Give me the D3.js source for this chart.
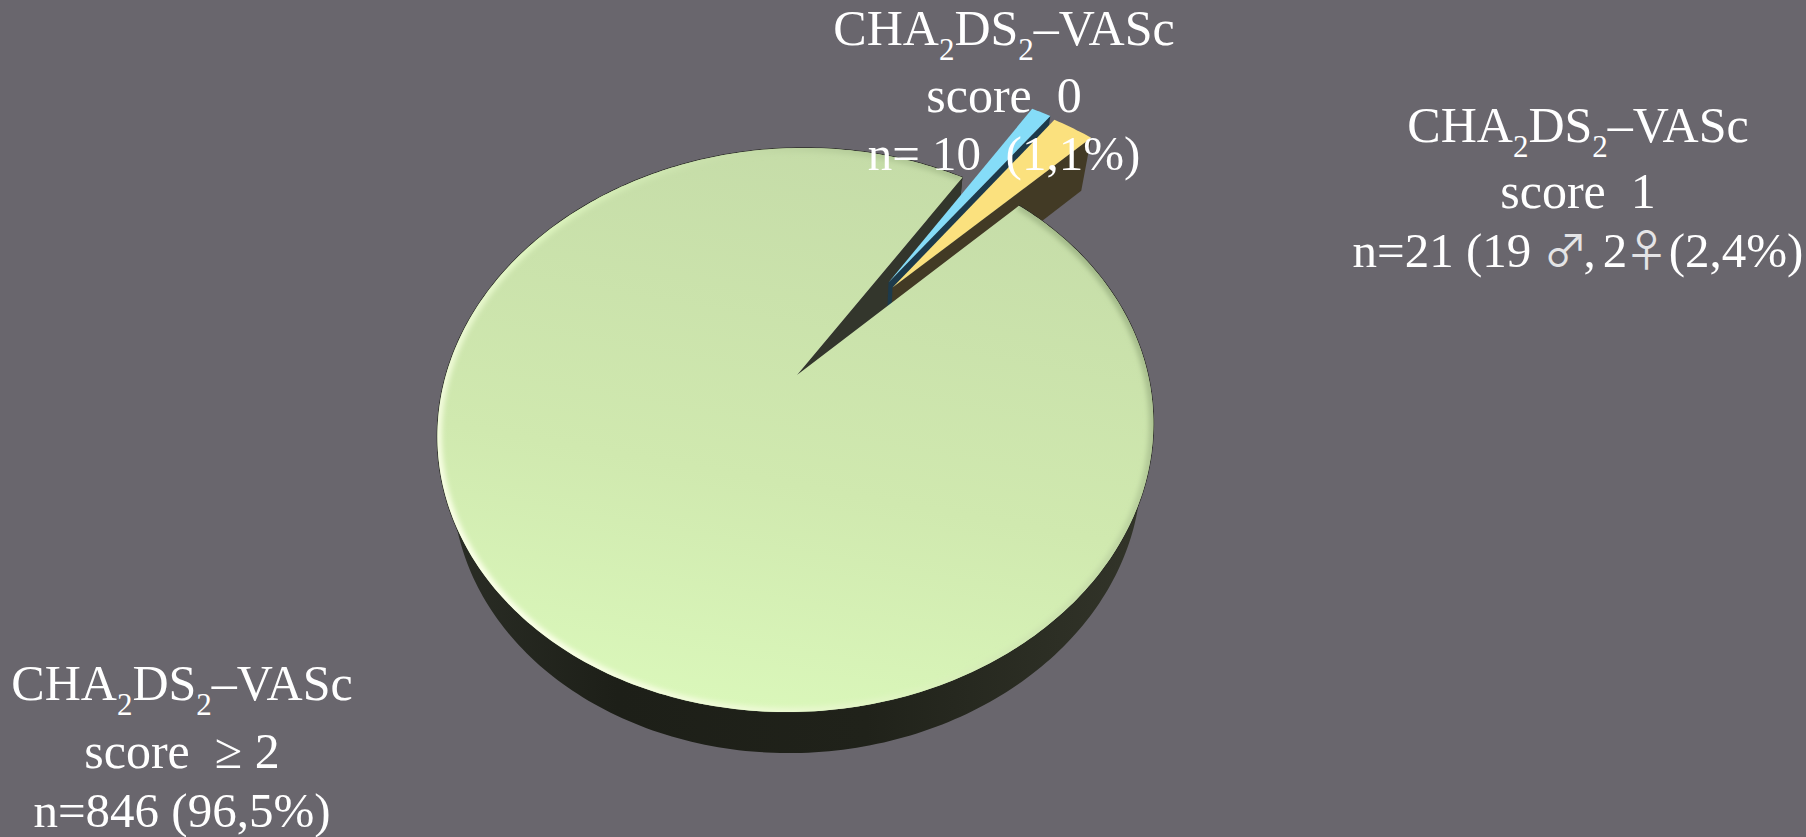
<!DOCTYPE html>
<html lang="en">
<head>
  <meta charset="UTF-8">
  <title>CHA2DS2-VASc pie</title>
  <script src="https://d3js.org/d3.v7.min.js"></script>
  <style>
    html, body { margin: 0; padding: 0; background: #69666d; overflow: hidden; }
    svg { display: block; }
    .label { font-family: "Liberation Serif", serif; font-size: 50px; fill: #fff; text-anchor: middle; white-space: pre; }
    .small { font-size: 49px; }
    .sym { font-family: "Noto Sans CJK SC", "DejaVu Sans", sans-serif; font-size: 44px; fill: #e4e4e6; letter-spacing: -4px; }
    .sym2 { letter-spacing: -12px; }
    .tight { letter-spacing: -2.7px; }
  </style>
</head>
<body>
  <div id="chart"></div>
  <script>
    // values
    const counts = [10, 21, 846];
    const exploded = [0.455, 0.445, 0];
    const explodeTurn = [2.5, -1, 0];
    const topColors = ["#85dcf8", "#fbe17e", "url(#greenTop)"];
    const wallColors = ["#1d3a4b", "#423a25", "#33362c"];

    const labelLines = [
      ["score  0", "n= 10  (1,1%)"],
      ["score  1", "n=21 (19 |♂|, 2|♀| (2,4%)"],
      ["score  ≥ 2", "n=846 (96,5%)"]
    ];
    const labelX = [1004, 1578, 182];
    const labelY = [[45, 112, 170], [142, 208, 267], [700, 768, 827]];

    const width = 1806, height = 837;

    const svg = d3.select("#chart").append("svg")
      .attr("width", width)
      .attr("height", height);

    const defs = svg.append("defs");

    const greenGrad = defs.append("linearGradient").attr("id", "greenTop")
      .attr("gradientUnits", "userSpaceOnUse")
      .attr("x1", 860).attr("y1", 148).attr("x2", 760).attr("y2", 712);
    greenGrad.append("stop").attr("offset", 0).attr("stop-color", "#c5dca8");
    greenGrad.append("stop").attr("offset", 0.6).attr("stop-color", "#d0e9af");
    greenGrad.append("stop").attr("offset", 1).attr("stop-color", "#daf7ba");

    const wallGrad = defs.append("linearGradient").attr("id", "greenWall")
      .attr("gradientUnits", "userSpaceOnUse")
      .attr("x1", 440).attr("y1", 0).attr("x2", 1150).attr("y2", 0);
    wallGrad.append("stop").attr("offset", 0).attr("stop-color", "#2b2e26");
    wallGrad.append("stop").attr("offset", 0.25).attr("stop-color", "#1d1f18");
    wallGrad.append("stop").attr("offset", 0.6).attr("stop-color", "#20221a");
    wallGrad.append("stop").attr("offset", 1).attr("stop-color", "#33352a");

    const rimGrad = defs.append("linearGradient").attr("id", "rimGlow")
      .attr("gradientUnits", "userSpaceOnUse")
      .attr("x1", 1050).attr("y1", 220).attr("x2", 540).attr("y2", 640);
    rimGrad.append("stop").attr("offset", 0).attr("stop-color", "#a3ba89");
    rimGrad.append("stop").attr("offset", 0.3).attr("stop-color", "#c6dda9");
    rimGrad.append("stop").attr("offset", 0.6).attr("stop-color", "#dcf3bd");
    rimGrad.append("stop").attr("offset", 1).attr("stop-color", "#fbffe8");

    defs.append("filter").attr("id", "soft")
      .attr("x", "-10%").attr("y", "-10%").attr("width", "120%").attr("height", "120%")
      .append("feGaussianBlur").attr("stdDeviation", 2.5);

    // tilted disc: unit pie coordinates to screen, with perspective
    const persp = 0.195;
    function project(u, v) {
      const w = 1 - persp * v;
      return [797 + (351 * u - 8 * v) / w, 375 + 271.3 * v / w];
    }
    // lower face of the pie shrinks towards the nadir point
    function lower(p) {
      return [831 + 0.962 * (p[0] - 831), 2667 + 0.979 * (p[1] - 2667)];
    }

    const pie = d3.pie().sort(null)
      .startAngle(32 * Math.PI / 180)
      .endAngle(392 * Math.PI / 180);
    const slices = pie(counts).map((d, i) => {
      const mid = (d.startAngle + d.endAngle) / 2 + explodeTurn[i] * Math.PI / 180;
      const ou = exploded[i] * Math.sin(mid), ov = -exploded[i] * Math.cos(mid);
      const pt = a => project(ou + Math.sin(a), ov - Math.cos(a));
      const steps = Math.max(4, Math.ceil((d.endAngle - d.startAngle) * 60));
      const rim = d3.range(steps + 1).map(k => pt(d.startAngle + (d.endAngle - d.startAngle) * k / steps));
      return { i, apex: project(ou, ov), rim };
    });

    const line = d3.line();
    const closed = pts => line(pts) + "Z";
    const topPath = s => closed([s.apex, ...s.rim]);

    const [blue, yellow, green] = slices;

    // green outer wall and the wall facing the gap
    svg.append("path")
      .attr("d", closed([...green.rim, ...green.rim.map(lower).reverse()]))
      .attr("fill", "url(#greenWall)");
    const greenEnd = green.rim[green.rim.length - 1];
    svg.append("path")
      .attr("d", closed([green.apex, greenEnd, lower(greenEnd), lower(green.apex)]))
      .attr("fill", wallColors[2]);

    // the two pulled out slices
    [blue, yellow].forEach(s => {
      const end = s.rim[s.rim.length - 1];
      svg.append("path")
        .attr("d", closed([s.apex, end, lower(end), lower(s.apex)]))
        .attr("fill", wallColors[s.i]);
      svg.append("path").attr("d", topPath(s)).attr("fill", topColors[s.i]);
    });

    // thin dark edge round the green top, then the top with a soft rim
    svg.append("path")
      .attr("d", line(green.rim))
      .attr("fill", "none")
      .attr("stroke", "#2b2d26")
      .attr("stroke-width", 1.5);
    defs.append("clipPath").attr("id", "greenClip").append("path").attr("d", topPath(green));
    svg.append("path").attr("d", topPath(green)).attr("fill", topColors[2]);
    svg.append("g").attr("clip-path", "url(#greenClip)")
      .append("path")
      .attr("d", line(green.rim))
      .attr("fill", "none")
      .attr("stroke", "url(#rimGlow)")
      .attr("stroke-width", 9)
      .attr("filter", "url(#soft)");

    // labels
    labelLines.forEach((lines, i) => {
      const x = labelX[i];
      const head = svg.append("text").attr("class", "label").attr("x", x).attr("y", labelY[i][0]);
      [["CHA"], ["2", 1], ["DS"], ["2", 1], ["–VASc"]].forEach(([t, sub]) => {
        head.append("tspan")
          .attr("dy", sub ? 15 : (t === "CHA" ? 0 : -15))
          .style("font-size", sub ? "31px" : null)
          .text(t);
      });
      lines.forEach((txt, k) => {
        const el = svg.append("text").attr("class", k === 1 ? "label small" : "label").attr("x", x).attr("y", labelY[i][k + 1]);
        txt.split("|").forEach(part => {
          const cls = part === "♂" ? "sym" : part === "♀" ? "sym sym2" : part === ", 2" ? "tight" : null;
          el.append("tspan").attr("class", cls).text(part);
        });
      });
    });
  </script>
</body>
</html>
